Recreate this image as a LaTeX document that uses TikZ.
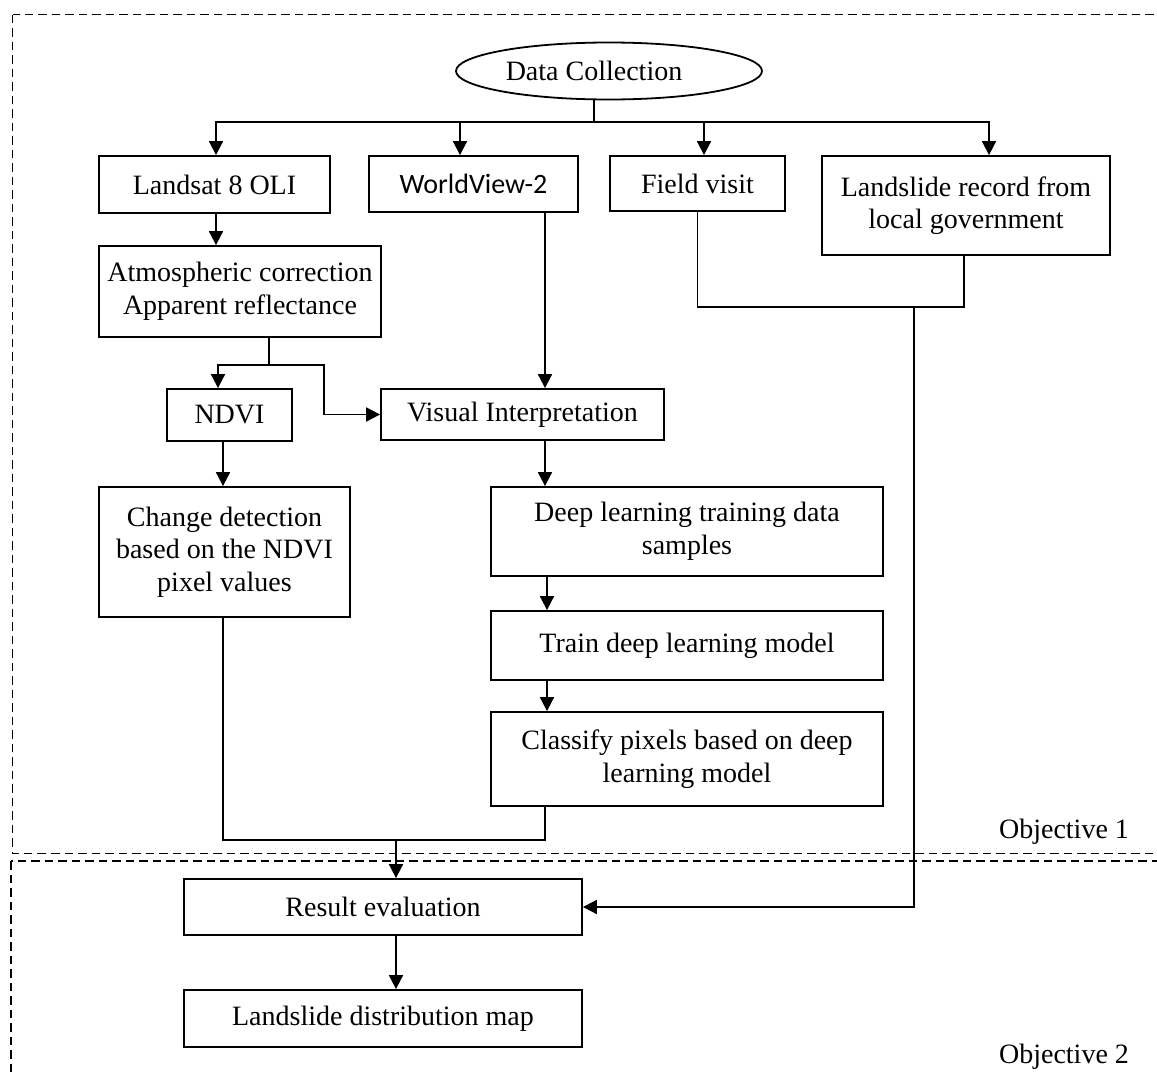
\documentclass[tikz,border=0pt]{standalone}
\usepackage{fontspec}
\setmainfont{Liberation Serif}
\newfontfamily\calibrifont{Carlito}
\usetikzlibrary{arrows.meta,shapes.geometric}

\begin{document}
\begin{tikzpicture}[x=1pt,y=-1pt,
  every node/.style={font=\fontsize{28}{32.5}\selectfont},
  box/.style={draw, line width=1.8pt, rectangle, inner sep=2pt, align=center},
  startnode/.style={draw, line width=1.8pt, ellipse, inner sep=0pt,
    minimum width=306pt, minimum height=57pt},
  conn/.style={line width=1.8pt},
  arr/.style={conn, -{Triangle[length=14pt,width=14pt]}},
  region/.style={line width=1.6pt, dash pattern=on 8.5pt off 5pt},
  plain/.style={inner sep=0pt}]

\useasboundingbox (0,0) rectangle (1157,1074);

% the two objective regions (open to the right and below)
\begin{scope}
  \clip (0,0) rectangle (1157,1074);
  \draw[region] (12.5,14.5) rectangle (1175,853.5);
  \draw[region] (11,861) rectangle (1175,1095);
\end{scope}

% start
\node[startnode] (dc) at (609,71) {Data Collection\hspace*{30pt}};

% data sources
\node[box, minimum width=231pt, minimum height=57pt] (ls) at (214.5,184.5) {Landsat 8 OLI};
\node[box, minimum width=209pt, minimum height=56pt] (wv) at (473.5,184) {\calibrifont WorldView-2};
\node[box, minimum width=175pt, minimum height=55pt] (fv) at (697.5,183.5) {Field visit};
\node[box, minimum width=288pt, minimum height=99pt] (lr) at (966,205.5) {Landslide record from\\local government};

% processing
\node[box, minimum width=282pt, minimum height=91pt] (ac) at (240,291.5) {Atmospheric correction\\Apparent reflectance};
\node[box, minimum width=125pt, minimum height=52pt] (ndvi) at (229.5,415) {NDVI};
\node[box, minimum width=283pt, minimum height=51pt] (vi) at (522.5,414.5) {Visual Interpretation};
\node[box, minimum width=251pt, minimum height=130pt] (cd) at (224.5,552) {Change detection\\based on the NDVI\\pixel values};
\node[box, minimum width=392pt, minimum height=89pt] (dl) at (687,531.5) {Deep learning training data\\samples};
\node[box, minimum width=392pt, minimum height=69pt] (tr) at (687,645.5) {Train deep learning model};
\node[box, minimum width=392pt, minimum height=94pt] (cl) at (687,759) {Classify pixels based on deep\\learning model};

% results
\node[box, minimum width=398pt, minimum height=56pt] (re) at (383,907) {Result evaluation};
\node[box, minimum width=398pt, minimum height=57pt] (lm) at (383,1018.5) {Landslide distribution map};

% region labels
\node[plain] (o1) at (1064,832) {Objective 1};
\node[plain] (o2) at (1064,1057) {Objective 2};

% junction points
\coordinate (j0) at (594,122);
\coordinate (j1) at (269,365);
\coordinate (j2) at (914,307);
\coordinate (j3) at (396,840);

% connectors
\draw[conn] (dc.south -| j0) -- (j0);
\draw[arr] (j0) -| ([xshift=1.5pt]ls.north);
\draw[arr] (j0) -| ([xshift=-13.5pt]wv.north);
\draw[arr] (j0) -| ([xshift=6.5pt]fv.north);
\draw[arr] (j0) -| ([xshift=23pt]lr.north);

\draw[arr] ([xshift=1.5pt]ls.south) -- ([xshift=1.5pt]ls.south |- ac.north);

\draw[conn] ([xshift=29pt]ac.south) -- (j1);
\draw[arr] (j1) -| ([xshift=-11.5pt]ndvi.north);
\draw[arr] (j1) -| ([xshift=-56pt]vi.west) -- (vi.west);

\draw[arr] ([xshift=71.5pt]wv.south) -- ([xshift=71.5pt]wv.south |- vi.north);

\draw[conn] (fv.south) |- ([xshift=-2pt]lr.south |- j2) -- ([xshift=-2pt]lr.south);
\draw[arr] (j2) |- (re.east);

\draw[arr] ([xshift=-6.5pt]ndvi.south) -- ([xshift=-6.5pt]ndvi.south |- cd.north);
\draw[arr] ([xshift=22.5pt]vi.south) -- ([xshift=22.5pt]vi.south |- dl.north);
\draw[arr] ([xshift=-140pt]dl.south) -- ([xshift=-140pt]dl.south |- tr.north);
\draw[arr] ([xshift=-140pt]tr.south) -- ([xshift=-140pt]tr.south |- cl.north);

\draw[conn] ([xshift=-142pt]cl.south) |- ([xshift=-1.5pt]cd.south |- j3) -- ([xshift=-1.5pt]cd.south);
\draw[arr] (j3) -- (j3 |- re.north);
\draw[arr] (j3 |- re.south) -- (j3 |- lm.north);

\end{tikzpicture}
\end{document}
